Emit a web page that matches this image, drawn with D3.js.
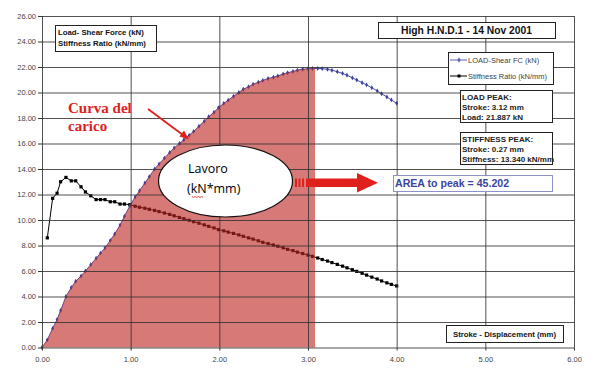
<!DOCTYPE html>
<html>
<head>
<meta charset="utf-8">
<script src="https://cdn.jsdelivr.net/npm/d3@7"></script>
<style>
  html, body { margin: 0; padding: 0; background: #fff; }
  svg { display: block; }
</style>
</head>
<body>
<div id="chart"></div>
<script>
/* ── data ────────────────────────────────────────────────────────── */
const stroke = [0, 0.06, 0.12, 0.17, 0.21, 0.27, 0.33, 0.38, 0.44, 0.49, 0.55, 0.61, 0.66, 0.71, 0.77,
  0.82, 0.88, 0.93, 0.99, 1.05, 1.10, 1.16, 1.21, 1.27, 1.32, 1.38, 1.44, 1.49, 1.55, 1.60, 1.66,
  1.71, 1.77, 1.83, 1.88, 1.94, 1.99, 2.05, 2.10, 2.16, 2.22, 2.27, 2.33, 2.38, 2.44, 2.49, 2.55,
  2.61, 2.66, 2.72, 2.77, 2.83, 2.88, 2.94, 3.00, 3.05, 3.11, 3.16, 3.22, 3.27, 3.33, 3.39, 3.44,
  3.50, 3.55, 3.61, 3.66, 3.72, 3.78, 3.83, 3.89, 3.94, 4.00];

const load = [0, 0.6, 1.5, 2.2, 2.9, 4.0, 4.7, 5.2, 5.6, 6.0, 6.5, 7.0, 7.4, 7.8, 8.4,
  8.9, 9.6, 10.3, 11.1, 11.8, 12.3, 12.9, 13.4, 14.0, 14.4, 14.85, 15.3, 15.65, 16.0, 16.3, 16.65,
  16.95, 17.35, 17.75, 18.1, 18.45, 18.8, 19.15, 19.4, 19.7, 20.0, 20.25, 20.45, 20.65, 20.8, 20.95, 21.1,
  21.2, 21.3, 21.45, 21.55, 21.65, 21.75, 21.83, 21.86, 21.88, 21.887, 21.87, 21.82, 21.75, 21.63, 21.5, 21.35,
  21.15, 20.98, 20.77, 20.6, 20.37, 20.13, 19.9, 19.65, 19.42, 19.15];

const stiffness = [null, 8.6, 11.7, 12.1, 13.0, 13.34, 13.07, 13.07, 12.6, 12.2, 11.9, 11.6, 11.6, 11.6, 11.43,
  11.43, 11.25, 11.25, 11.2, 11.08, 11.0, 10.92, 10.84, 10.75, 10.66, 10.55, 10.44, 10.33, 10.2, 10.1, 9.98,
  9.87, 9.75, 9.62, 9.5, 9.38, 9.25, 9.15, 9.05, 8.95, 8.83, 8.72, 8.6, 8.5, 8.37, 8.25, 8.15,
  8.04, 7.94, 7.82, 7.7, 7.6, 7.48, 7.37, 7.25, 7.15, 7.02, 6.9, 6.78, 6.66, 6.52, 6.38, 6.25,
  6.1, 5.97, 5.82, 5.68, 5.52, 5.37, 5.22, 5.07, 4.95, 4.83];

const fillEnd = 3.08;           // shaded "work" area ends here (mm)
const xTicks = [0, 1, 2, 3, 4, 5, 6];
const yTicks = [0, 2, 4, 6, 8, 10, 12, 14, 16, 18, 20, 22, 24, 26];

const titleText  = 'High H.N.D.1 - 14 Nov 2001';
const yTitle     = ['Load- Shear Force (kN)', 'Stiffness Ratio (kN/mm)'];
const xTitle     = 'Stroke - Displacement (mm)';
const legendText = ['LOAD-Shear FC (kN)', 'Stiffness Ratio (kN/mm)'];
const loadPeak   = ['LOAD PEAK:', 'Stroke: 3.12 mm', 'Load: 21.887 kN'];
const stiffPeak  = ['STIFFNESS PEAK:', 'Stroke: 0.27 mm', 'Stiffness: 13.340 kN/mm'];
const areaText   = 'AREA to peak = 45.202';

/* ── setup ───────────────────────────────────────────────────────── */
const W = 598, H = 376;
const SANS = 'Liberation Sans, Arial, sans-serif';
const NARROW = 'Liberation Sans Narrow, Arial Narrow, Liberation Sans, sans-serif';

const svg = d3.select('#chart').append('svg')
  .attr('width', W).attr('height', H).attr('viewBox', `0 0 ${W} ${H}`);

const x = d3.scaleLinear().domain([0, 6]).range([42, 574]);
const y = d3.scaleLinear().domain([0, 26]).range([347.5, 16]);

const pts = stroke.map((s, i) => ({ s, load: load[i], stiff: stiffness[i] }));

/* stiffness series */
const sPts = pts.filter(d => d.stiff != null);
svg.append('path').datum(sPts)
  .attr('fill', 'none').attr('stroke', '#000').attr('stroke-width', 1)
  .attr('d', d3.line().x(d => x(d.s)).y(d => y(d.stiff)));
svg.append('g').selectAll('rect').data(sPts).join('rect')
  .attr('x', d => x(d.s) - 1.6).attr('y', d => y(d.stiff) - 1.6)
  .attr('width', 3.2).attr('height', 3.2).attr('fill', '#000');

/* load series */
svg.append('path').datum(pts)
  .attr('fill', 'none').attr('stroke', '#4b4fa8').attr('stroke-width', 1)
  .attr('d', d3.line().x(d => x(d.s)).y(d => y(d.load)));
svg.append('g').selectAll('path').data(pts).join('path')
  .attr('transform', d => `translate(${x(d.s)},${y(d.load)})`)
  .attr('d', d3.symbol(d3.symbolDiamond, 7))
  .attr('fill', '#3c40a0');

/* shaded area under the load curve up to fillEnd (drawn over the lines) */
const before = pts.filter(d => d.s <= fillEnd);
const a = before[before.length - 1], b = pts[before.length];
const endLoad = d3.interpolateNumber(a.load, b.load)((fillEnd - a.s) / (b.s - a.s));
const areaPts = before.concat([{ s: fillEnd, load: endLoad }]);
svg.append('path').datum(areaPts)
  .attr('fill', 'rgb(190,40,36)').attr('fill-opacity', 0.62)
  .attr('d', d3.area().x(d => x(d.s)).y0(y(0)).y1(d => y(d.load)));

/* grid via d3 axes, with tick labels */
const yAxisG = svg.append('g').attr('transform', `translate(${x(0)},0)`)
  .call(d3.axisLeft(y).tickValues(yTicks).tickSize(-(x(6) - x(0))).tickFormat(d3.format('.2f')).tickPadding(6));
const xAxisG = svg.append('g').attr('transform', `translate(0,${y(0)})`)
  .call(d3.axisBottom(x).tickValues(xTicks).tickSize(-(y(0) - y(26))).tickFormat(d3.format('.2f')).tickPadding(7));
[yAxisG, xAxisG].forEach(g => {
  g.select('.domain').remove();
  g.selectAll('line').attr('stroke', '#333').attr('stroke-opacity', 0.85).attr('stroke-width', 1);
  g.selectAll('text').attr('font-family', NARROW).attr('font-size', 7.5).attr('fill', '#444');
});
xAxisG.selectAll('text').attr('y', 14.5).attr('dy', null);
/* short outside tick stubs */
yAxisG.selectAll('.tick').append('line').attr('x1', -4).attr('x2', 0).attr('stroke', '#333');
xAxisG.selectAll('.tick').append('line').attr('y1', 0).attr('y2', 3).attr('stroke', '#333');

/* ── boxes ───────────────────────────────────────────────────────── */
function box(x0, y0, w, h, col) {
  svg.append('rect').attr('x', x0 + 0.5).attr('y', y0 + 0.5)
    .attr('width', w).attr('height', h)
    .attr('fill', '#fff').attr('stroke', col || '#222').attr('stroke-width', 1);
}

/* y title box */
box(55, 25, 101, 26);
yTitle.forEach((t, i) => {
  svg.append('text').attr('x', 58).attr('y', 34.5 + i * 11.5)
    .attr('font-family', SANS).attr('font-weight', 'bold').attr('font-size', 7.8)
    .attr('fill', '#111').text(t);
});

/* title */
box(378, 22, 177, 16);
svg.append('text').attr('x', 466.5).attr('y', 34)
  .attr('text-anchor', 'middle')
  .attr('font-family', SANS).attr('font-weight', 'bold').attr('font-size', 10.3)
  .attr('fill', '#111').text(titleText);

/* legend */
box(448, 52, 105, 32);
legendText.forEach((t, i) => {
  const ly = 60 + i * 16;
  const col = i === 0 ? '#5a5eb0' : '#000';
  svg.append('path').attr('d', `M450,${ly}H467`)
    .attr('stroke', col).attr('stroke-width', 1);
  if (i === 0) {
    svg.append('path').attr('transform', `translate(459,${ly})`)
      .attr('d', d3.symbol(d3.symbolDiamond, 8)).attr('fill', col);
  } else {
    svg.append('rect').attr('x', 457.5).attr('y', ly - 1.5).attr('width', 3).attr('height', 3).attr('fill', col);
  }
  svg.append('text').attr('x', 468).attr('y', ly + 2.5)
    .attr('font-family', NARROW).attr('font-size', 7.5).attr('fill', '#444').text(t);
});

/* peak boxes */
function peakBox(lines, y0) {
  box(460, y0, 92, 32);
  lines.forEach((t, i) => {
    svg.append('text').attr('x', 462).attr('y', y0 + 9.5 + i * 10.3)
      .attr('font-family', NARROW).attr('font-weight', 'bold').attr('font-size', 8)
      .attr('fill', '#222').text(t);
  });
}
peakBox(loadPeak, 90);
peakBox(stiffPeak, 132);

/* area box */
box(393, 175, 159, 16, '#8c92c8');
svg.append('text').attr('x', 395).attr('y', 187)
  .attr('font-family', SANS).attr('font-weight', 'bold').attr('font-size', 10.6)
  .attr('fill', '#3a44a0').text(areaText);

/* x title box */
box(446, 325, 117, 17);
svg.append('text').attr('x', 504.5).attr('y', 336.5)
  .attr('text-anchor', 'middle')
  .attr('font-family', SANS).attr('font-weight', 'bold').attr('font-size', 7.8)
  .attr('fill', '#111').text(xTitle);

/* ── annotations ─────────────────────────────────────────────────── */
/* "Curva del carico" with arrow to the curve */
const SERIF = 'Liberation Serif, Times New Roman, serif';
svg.append('text').attr('x', 68).attr('y', 113)
  .attr('font-family', SERIF).attr('font-weight', 'bold')
  .attr('font-size', 15).attr('fill', '#e0201c').text('Curva del');
svg.append('text').attr('x', 68).attr('y', 131)
  .attr('font-family', SERIF).attr('font-weight', 'bold')
  .attr('font-size', 15).attr('fill', '#e0201c').text('carico');
svg.append('path').attr('d', 'M148,109L183,135')
  .attr('stroke', '#e0201c').attr('stroke-width', 1.8);
svg.append('path').attr('d', 'M189,139.5 L179.5,136.5 L184,130.5 Z').attr('fill', '#e0201c');

/* ellipse "Lavoro (kN*mm)" */
svg.append('ellipse').attr('cx', 225.5).attr('cy', 181).attr('rx', 67).attr('ry', 36)
  .attr('fill', '#fff').attr('stroke', '#111').attr('stroke-width', 1.2);
svg.append('text').attr('x', 188).attr('y', 173)
  .attr('font-family', 'Open Sans, Noto Sans, sans-serif').attr('font-size', 12.5)
  .attr('font-weight', 500).attr('fill', '#000').text('Lavoro');
svg.append('text').attr('x', 187).attr('y', 193)
  .attr('font-family', 'Open Sans, Noto Sans, sans-serif').attr('font-size', 12.5)
  .attr('font-weight', 500).attr('fill', '#000').text('(kN*mm)');
/* spell-check squiggle under "kN" */
const sq = d3.range(0, 8).map(i => [192 + i * 1.6, 196.5 + (i % 2 ? 1 : 0)]);
svg.append('path').attr('d', d3.line()(sq))
  .attr('fill', 'none').attr('stroke', '#e02020').attr('stroke-width', 0.8);

/* big red arrow towards the AREA box */
[295, 298.5, 302].forEach(dx => {
  svg.append('rect').attr('x', dx).attr('y', 178.5).attr('width', 2).attr('height', 8.5)
    .attr('fill', '#e0201c');
});
svg.append('path')
  .attr('d', 'M306,178.5 L357,178.5 L357,173 L378,182.7 L357,192.5 L357,187 L306,187 Z')
  .attr('fill', '#e0201c');
</script>
</body>
</html>
